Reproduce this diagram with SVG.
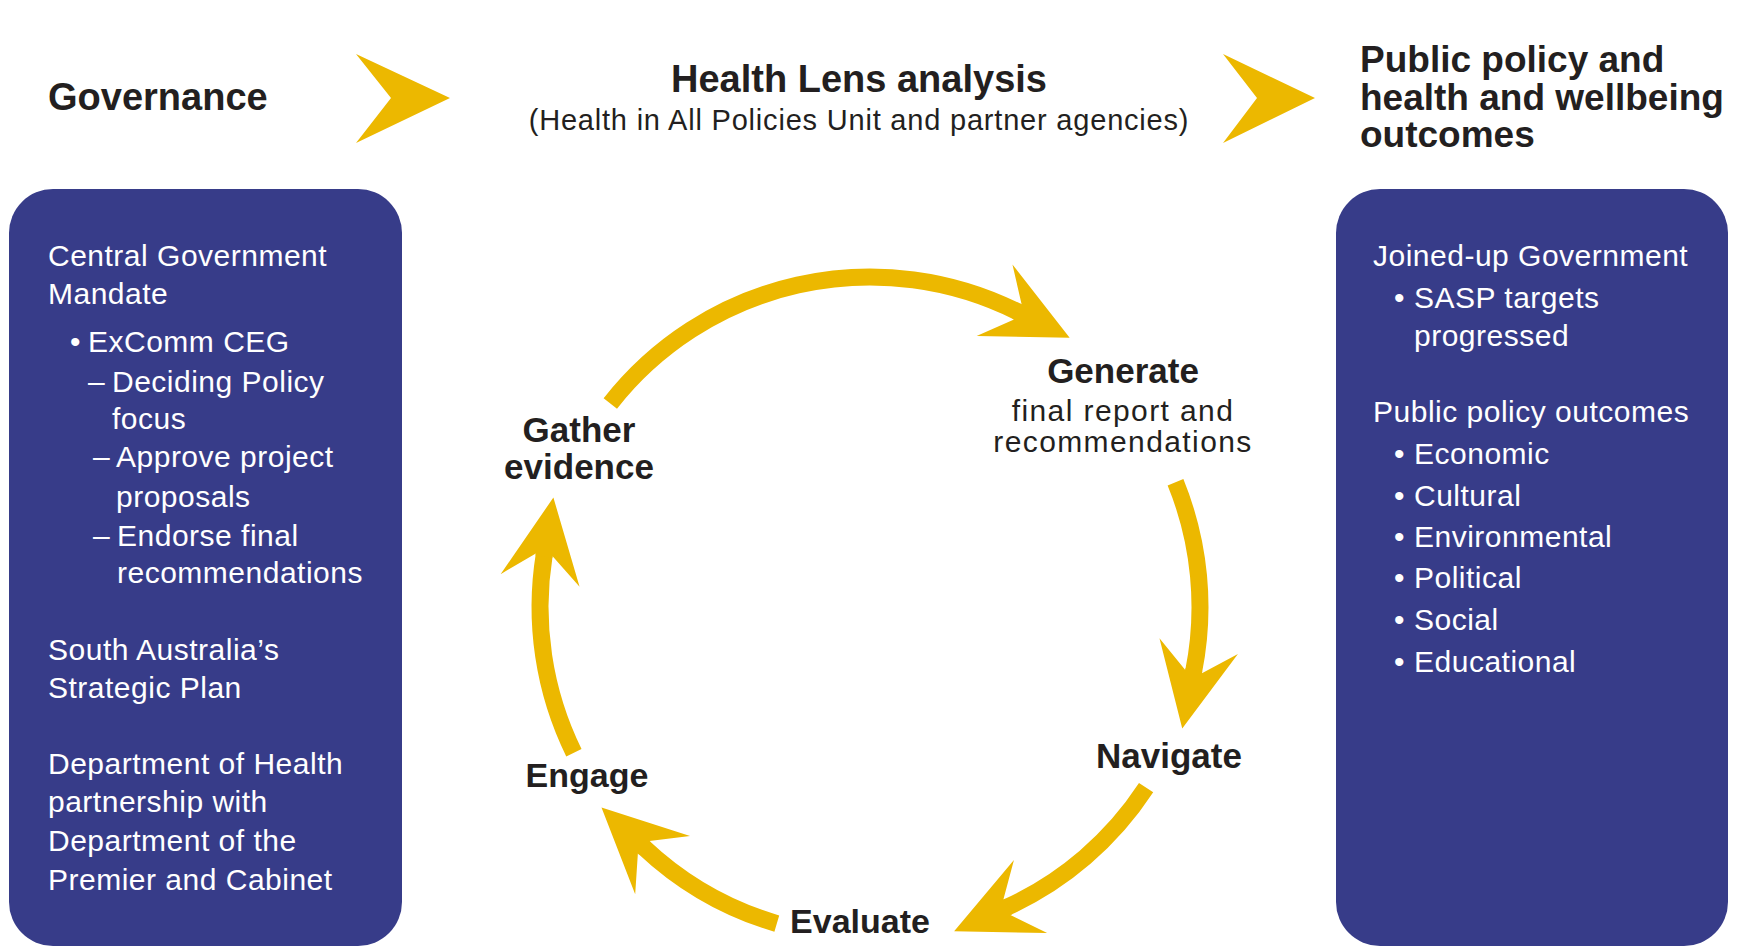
<svg xmlns="http://www.w3.org/2000/svg" width="1744" height="947" viewBox="0 0 1744 947">
<defs>
<style>
.title{font-family:"Liberation Sans",Arial,sans-serif;font-weight:bold;font-size:38px;fill:#231f20}
.title2{font-size:37px}
.sub{font-family:"Liberation Sans",Arial,sans-serif;font-size:29px;fill:#231f20;letter-spacing:0.8px}
.box{fill:#373c89}
.bt{font-family:"Liberation Sans",Arial,sans-serif;font-size:30px;fill:#ffffff;letter-spacing:0.5px}
.lab{font-family:"Liberation Sans",Arial,sans-serif;font-weight:bold;font-size:35px;fill:#231f20;text-anchor:middle}
.lab2{font-size:34px}
.labr{font-family:"Liberation Sans",Arial,sans-serif;font-size:30px;fill:#231f20;text-anchor:middle;letter-spacing:1.4px}
.arc{fill:none;stroke:#ecb800;stroke-width:17;marker-end:url(#ah)}
.chev{fill:#ecb800}
</style>
<marker id="ah" markerUnits="userSpaceOnUse" orient="auto" markerWidth="120" markerHeight="120" refX="0" refY="0" overflow="visible">
<path d="M58,0 L-26,-40 L0,-8.5 L-2,-8.5 L-2,8.5 L0,8.5 L-26,40 Z" fill="#ecb800"/>
</marker>
</defs>
<rect width="1744" height="947" fill="#ffffff"/>

<g id="connectors">
<polygon class="chev" points="356,54 450,98 356,143 391,98"/>
<polygon class="chev" points="1223,54 1315,98 1223,143 1257,98"/>
<path class="arc" d="M610.3,403.4 A330,330 0 0 1 1017.8,311.9"/>
<path class="arc" d="M1175.5,482.3 A330,330 0 0 1 1193.6,671.7"/>
<path class="arc" d="M1146.1,787.7 A330,330 0 0 1 1006.9,907.3"/>
<path class="arc" d="M776.8,923.6 A330,330 0 0 1 643.7,847.2"/>
<path class="arc" d="M573.9,752.7 A330,330 0 0 1 544.2,554.8"/>
</g>

<g id="governance-header">
<text class="title" x="48" y="110">Governance</text>
</g>

<g id="analysis-header">
<text class="title" x="859" y="92" text-anchor="middle">Health Lens analysis</text>
<text class="sub" x="859" y="130" text-anchor="middle">(Health in All Policies Unit and partner agencies)</text>
</g>

<g id="outcomes-header">
<text class="title title2" x="1360" y="72">Public policy and</text>
<text class="title title2" x="1360" y="110">health and wellbeing</text>
<text class="title title2" x="1360" y="147">outcomes</text>
</g>

<g id="governance-box">
<rect class="box" x="9" y="189" width="393" height="757" rx="44"/>
<text class="bt" x="48" y="266">Central Government</text>
<text class="bt" x="48" y="304">Mandate</text>
<text class="bt" x="70" y="352">•</text>
<text class="bt" x="88" y="352">ExComm CEG</text>
<text class="bt" x="88" y="392">–</text>
<text class="bt" x="112" y="392">Deciding Policy</text>
<text class="bt" x="112" y="429">focus</text>
<text class="bt" x="93" y="467">–</text>
<text class="bt" x="116" y="467">Approve project</text>
<text class="bt" x="116" y="507">proposals</text>
<text class="bt" x="93" y="546">–</text>
<text class="bt" x="117" y="546">Endorse final</text>
<text class="bt" x="117" y="583">recommendations</text>
<text class="bt" x="48" y="660">South Australia’s</text>
<text class="bt" x="48" y="698">Strategic Plan</text>
<text class="bt" x="48" y="774">Department of Health</text>
<text class="bt" x="48" y="812">partnership with</text>
<text class="bt" x="48" y="851">Department of the</text>
<text class="bt" x="48" y="890">Premier and Cabinet</text>
</g>

<g id="outcomes-box">
<rect class="box" x="1336" y="189" width="392" height="757" rx="44"/>
<text class="bt" x="1373" y="266">Joined-up Government</text>
<text class="bt" x="1394" y="308">•</text>
<text class="bt" x="1414" y="308">SASP targets</text>
<text class="bt" x="1414" y="346">progressed</text>
<text class="bt" x="1373" y="422">Public policy outcomes</text>
<text class="bt" x="1394" y="464">•</text>
<text class="bt" x="1414" y="464">Economic</text>
<text class="bt" x="1394" y="506">•</text>
<text class="bt" x="1414" y="506">Cultural</text>
<text class="bt" x="1394" y="547">•</text>
<text class="bt" x="1414" y="547">Environmental</text>
<text class="bt" x="1394" y="588">•</text>
<text class="bt" x="1414" y="588">Political</text>
<text class="bt" x="1394" y="630">•</text>
<text class="bt" x="1414" y="630">Social</text>
<text class="bt" x="1394" y="672">•</text>
<text class="bt" x="1414" y="672">Educational</text>
</g>

<g id="gather">
<text class="lab" x="579" y="442">Gather</text>
<text class="lab" x="579" y="479">evidence</text>
</g>
<g id="generate">
<text class="lab" x="1123" y="383">Generate</text>
<text class="labr" x="1123" y="421">final report and</text>
<text class="labr" x="1123" y="452">recommendations</text>
</g>
<g id="navigate">
<text class="lab" x="1169" y="768">Navigate</text>
</g>
<g id="evaluate">
<text class="lab lab2" x="860" y="933">Evaluate</text>
</g>
<g id="engage">
<text class="lab lab2" x="587" y="787">Engage</text>
</g>
</svg>
